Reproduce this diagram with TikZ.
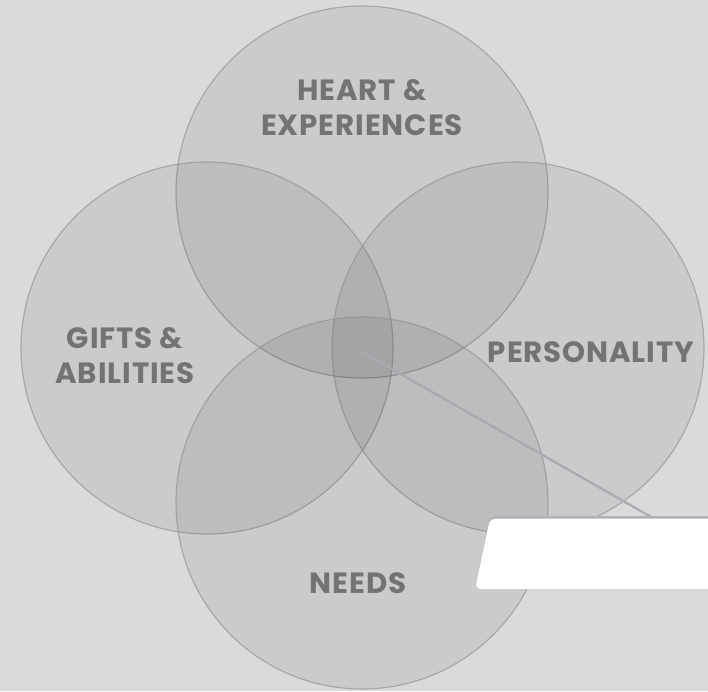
\documentclass[tikz,border=0pt]{standalone}
\usepackage{fontspec}
\setmainfont{Poppins}[LetterSpace=3]
\definecolor{bg}{RGB}{218,218,218}
\definecolor{ptr}{RGB}{169,169,178}
\definecolor{boxedge}{RGB}{176,176,184}
\definecolor{lbltext}{RGB}{115,115,115}
\begin{document}
\begin{tikzpicture}[x=1pt,y=-1pt,
  venn/.style={circle,draw=black!45,line width=1.2pt,fill=black,fill opacity=0.065,draw opacity=0.6,minimum size=372pt,inner sep=0pt},
  lbl/.style={font=\bfseries\fontsize{29.3}{35}\selectfont,text=lbltext,align=center,inner sep=0pt},
  pointer/.style={draw=ptr,line width=2.2pt}]
\fill[bg] (0,0) rectangle (708,691);
\useasboundingbox (0,0) rectangle (708,691);
\node[venn] (heart) at (362,192) {};
\node[venn] (gifts) at (207,348) {};
\node[venn] (pers) at (518,348) {};
\node[venn] (needs) at (362,503) {};
\node[lbl] (tHeart) at (362,108) {HEART \&\\EXPERIENCES};
\node[lbl] (tGifts) at (125,356) {GIFTS \&\\ABILITIES};
\node[lbl] (tPers) at (591,352.5) {PERSONALITY};
\node[lbl] (tNeeds) at (358,583) {NEEDS};
\coordinate (hub) at (362,352);
\coordinate (tip) at (660,522);
\draw[pointer] (hub) -- (tip);
\fill[boxedge,rounded corners=6pt] (490,516) -- (720,516) -- (720,589) -- (475,589) -- cycle;
\fill[white,rounded corners=6pt] (490,518.5) -- (720,518.5) -- (720,589) -- (475,589) -- cycle;
\end{tikzpicture}
\end{document}
